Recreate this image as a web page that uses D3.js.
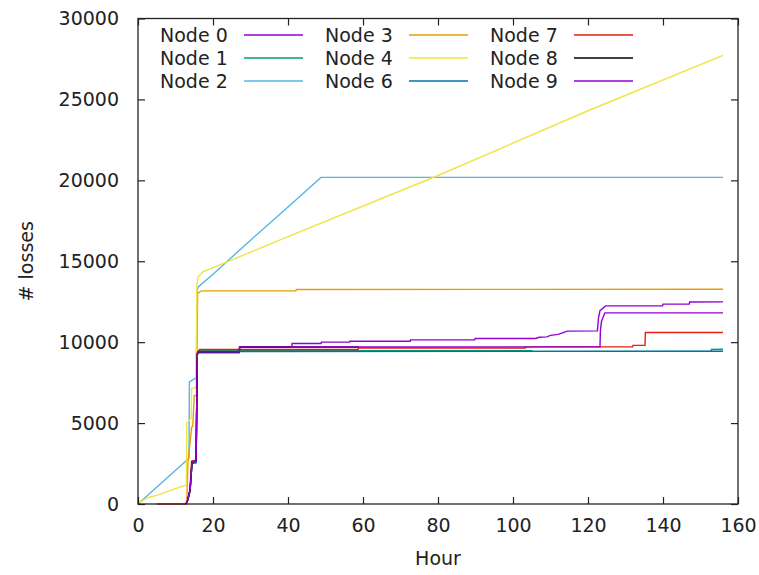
<!DOCTYPE html>
<html>
<head>
<meta charset="utf-8">
<script src="https://cdn.jsdelivr.net/npm/d3@7"></script>
<style>
  body { margin: 0; background: #fff; }
  text { font-family: "DejaVu Sans", sans-serif; fill: #222; }
</style>
</head>
<body>
<script>
// cumulative losses per node, [hour, losses]
var node0 = [[12.8,0],[13.3,300],[13.9,900],[14.4,2550],[15.5,2600],[15.8,9250],[16.1,9380],[27,9380],[27.1,9700],[41,9700],[41.1,9920],[48.8,9920],[48.9,10000],[56.4,10000],[56.5,10060],[72.6,10060],[72.7,10140],[89.8,10140],[89.9,10230],[106,10230],[107,10300],[109,10330],[110,10420],[112,10480],[113,10560],[114.5,10680],[122.5,10700],[122.8,11500],[123.2,11950],[124.7,12240],[139.9,12240],[140,12350],[147,12350],[147.1,12480],[156,12490]];
var node1 = [[12.8,0],[13.3,250],[13.9,850],[14.4,2500],[15.5,2550],[15.8,9200],[16.1,9480],[105,9480],[105.1,9430],[152.8,9430],[152.9,9550],[156,9560]];
var node2 = [[0,0],[13.6,2830],[13.7,7550],[15.5,7800],[15.8,13200],[16,13400],[20,14200],[30,16300],[40,18350],[48.8,20180],[156,20180]];
var node3 = [[13,0],[13.3,2500],[14.3,4750],[14.6,4800],[15,6700],[15.6,6700],[15.9,13000],[16.4,13100],[17,13170],[42.1,13170],[42.2,13250],[156,13270]];
var node4 = [[0,0],[1.5,250],[3,420],[5.2,550],[9,870],[12.9,1180],[13,5000],[14.2,5300],[14.3,7140],[15.5,7200],[15.7,13500],[16,14030],[17.3,14340],[40,16520],[80,20300],[120,24300],[156,27720]];
var node6 = [[12.8,0],[13.3,250],[13.9,850],[14.4,2500],[15.5,2550],[15.8,9200],[16.1,9340],[27,9340],[27.1,9420],[156,9440]];
var node7 = [[5,0],[12.8,0],[13.2,200],[13.8,700],[14.3,2650],[15.5,2700],[15.8,9350],[16.4,9550],[58.7,9550],[58.8,9640],[103.3,9640],[103.4,9710],[131.9,9710],[132,9800],[135.2,9800],[135.3,10600],[156,10600]];
var node8 = [[12.8,0],[13.3,300],[13.9,900],[14.4,2600],[15.5,2650],[15.8,9280],[16.1,9400],[27,9400],[27.1,9700],[58.8,9700]];
var node9 = [[12.8,0],[13.3,300],[13.9,900],[14.4,2600],[15.5,2650],[15.8,9280],[16.1,9400],[27,9400],[27.1,9700],[123.2,9710],[123.3,10700],[123.6,11300],[124.5,11810],[156,11810]];

var seriesNames = ["Node 0","Node 1","Node 2","Node 3","Node 4","Node 6","Node 7","Node 8","Node 9"];
var seriesData = [node0, node1, node2, node3, node4, node6, node7, node8, node9];
var seriesColors = ["#9400d3","#009e73","#56b4e9","#e69f00","#f0e442","#0072b2","#e51e10","#000000","#9400d3"];
var xTicks = [0,20,40,60,80,100,120,140,160];
var yTicks = [0,5000,10000,15000,20000,25000,30000];

var svgWidth = 759, svgHeight = 575;
var margin = {top: 18.5, right: 21, bottom: 71, left: 138};
var width = svgWidth - margin.left - margin.right;
var height = svgHeight - margin.top - margin.bottom;

var svg = d3.select("body").append("svg")
  .attr("width", svgWidth)
  .attr("height", svgHeight);

var chartGroup = svg.append("g")
  .attr("transform", `translate(${margin.left}, ${margin.top})`);

var x = d3.scaleLinear().domain([0, 160]).range([0, width]);
var y = d3.scaleLinear().domain([0, 30000]).range([height, 0]);

// lines
var line = d3.line().x(d => x(d[0])).y(d => y(d[1]));
seriesData.forEach(function(s, i) {
  chartGroup.append("path")
    .datum(s)
    .attr("fill", "none")
    .attr("stroke", seriesColors[i])
    .attr("stroke-width", 1.4)
    .attr("d", line);
});

// axes: gnuplot style, inward ticks mirrored
function styleAxis(g) {
  g.select(".domain").remove();
  g.selectAll(".tick line").attr("stroke", "#222").attr("stroke-width", 1.2);
  g.selectAll(".tick text").style("font-size", "19px").attr("fill", "#222");
}
chartGroup.append("g")
  .attr("transform", `translate(0, ${height})`)
  .call(d3.axisBottom(x).tickValues(xTicks).tickSizeInner(-7).tickSizeOuter(0).tickPadding(10))
  .call(styleAxis)
  .selectAll(".tick text").attr("dy", "0.95em");
chartGroup.append("g")
  .call(d3.axisLeft(y).tickValues(yTicks).tickFormat(d3.format("d")).tickSizeInner(-7).tickSizeOuter(0).tickPadding(19))
  .call(styleAxis);
chartGroup.append("g")
  .call(d3.axisTop(x).tickValues(xTicks).tickSizeInner(-7).tickSizeOuter(0).tickFormat(""))
  .call(styleAxis);
chartGroup.append("g")
  .attr("transform", `translate(${width}, 0)`)
  .call(d3.axisRight(y).tickValues(yTicks).tickSizeInner(-7).tickSizeOuter(0).tickFormat(""))
  .call(styleAxis);

chartGroup.append("rect")
  .attr("width", width).attr("height", height)
  .attr("fill", "none").attr("stroke", "#222").attr("stroke-width", 1.3);

// legend, 3 columns
var legend = svg.append("g");
seriesNames.forEach(function(name, i) {
  var col = Math.floor(i / 3), row = i % 3;
  var lx = 160 + col * 165, ly = 35 + row * 23;
  legend.append("text")
    .attr("x", lx).attr("y", ly)
    .attr("dy", "0.35em")
    .style("font-size", "19px")
    .text(name);
  legend.append("line")
    .attr("x1", lx + 84).attr("x2", lx + 143)
    .attr("y1", ly).attr("y2", ly)
    .attr("stroke", seriesColors[i])
    .attr("stroke-width", 1.4);
});

// axis titles
svg.append("text")
  .attr("x", margin.left + width / 2).attr("y", 558)
  .attr("dy", "0.35em")
  .attr("text-anchor", "middle")
  .style("font-size", "19px")
  .text("Hour");
svg.append("text")
  .attr("transform", `translate(26, ${margin.top + height / 2}) rotate(-90)`)
  .attr("text-anchor", "middle")
  .attr("dy", "0.35em")
  .style("font-size", "19px")
  .text("# losses");
</script>
</body>
</html>
